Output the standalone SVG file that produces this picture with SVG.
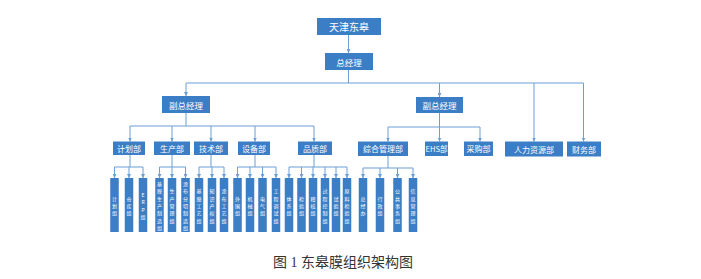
<svg xmlns="http://www.w3.org/2000/svg" width="701" height="279" viewBox="0 0 701 279">
<style>
.box{fill:#3b7ec6;}
.leaf{fill:#3b7ec6;}
.t{fill:#ffffff;font-family:"Noto Sans CJK SC","Noto Sans",sans-serif;text-anchor:middle;dominant-baseline:central;}
.vt{fill:#ffffff;font-family:"Noto Sans CJK SC","Noto Sans",sans-serif;font-size:5px;text-anchor:middle;dominant-baseline:central;}
.ln{fill:none;stroke:#6b9fd6;stroke-width:1;}
.ar{fill:none;stroke:#6b9fd6;stroke-width:1;marker-end:url(#ah);}
.cap{fill:#333333;font-family:"Liberation Serif","Noto Sans CJK SC",serif;font-size:14px;text-anchor:middle;dominant-baseline:central;}
</style>
<defs>
<marker id="ah" viewBox="0 0 6 6" refX="6" refY="3" markerWidth="4" markerHeight="4" orient="auto" markerUnits="userSpaceOnUse">
<path d="M0,0 L6,3 L0,6 Z" fill="#6b9fd6"/>
</marker>
</defs>
<rect x="0" y="0" width="701" height="279" fill="#ffffff"/>
<g id="connectors">
<path class="ar" d="M348.5,35 V53"/>
<path class="ln" d="M348.5,70 V83 M186,83 H583.5"/>
<path class="ar" d="M186,83 V96"/>
<path class="ar" d="M439.5,83 V97"/>
<path class="ar" d="M534,83 V141.5"/>
<path class="ar" d="M583.5,83 V141.5"/>
<path class="ln" d="M186,113 V126 M130,126 H314"/>
<path class="ar" d="M130,126 V141.5"/>
<path class="ar" d="M172,126 V141.5"/>
<path class="ar" d="M211,126 V141.5"/>
<path class="ar" d="M255,126 V141.5"/>
<path class="ar" d="M314,126 V141.5"/>
<path class="ln" d="M439.5,113 V127 M388,127 H480"/>
<path class="ar" d="M388,127 V141.5"/>
<path class="ar" d="M439.5,127 V141.5"/>
<path class="ar" d="M480,127 V141.5"/>
<path class="ln" d="M130,155 V167 M114.5,167 H143"/>
<path class="ar" d="M114.5,167 V178"/><path class="ar" d="M129,167 V178"/><path class="ar" d="M143,167 V178"/>
<path class="ln" d="M172,155 V167 M159.5,167 H185.5"/>
<path class="ar" d="M159.5,167 V178"/><path class="ar" d="M172,167 V178"/><path class="ar" d="M185.5,167 V178"/>
<path class="ln" d="M211,155 V167 M199,167 H224"/>
<path class="ar" d="M199,167 V178"/><path class="ar" d="M212,167 V178"/><path class="ar" d="M224,167 V178"/>
<path class="ln" d="M255,155 V167 M237.5,167 H276"/>
<path class="ar" d="M237.5,167 V178"/><path class="ar" d="M250,167 V178"/><path class="ar" d="M262.5,167 V178"/><path class="ar" d="M276,167 V178"/>
<path class="ln" d="M314,155 V167 M289,167 H347"/>
<path class="ar" d="M289,167 V178"/><path class="ar" d="M301.5,167 V178"/><path class="ar" d="M313,167 V178"/><path class="ar" d="M325,167 V178"/><path class="ar" d="M336,167 V178"/><path class="ar" d="M347,167 V178"/>
<path class="ln" d="M388,156 V168 M363,168 H413"/>
<path class="ar" d="M363,168 V178"/><path class="ar" d="M380,168 V178"/><path class="ar" d="M397.5,168 V178"/><path class="ar" d="M413,168 V178"/>
</g>
<g id="n-tianjin"><rect class="box" x="317" y="18" width="64" height="17"/><text class="t" x="349" y="26.5" font-size="10">天津东皋</text></g>
<g id="n-zjl"><rect class="box" x="325" y="53" width="48" height="17"/><text class="t" x="349" y="61.5" font-size="8.5">总经理</text></g>
<g id="n-fzjl1"><rect class="box" x="162" y="96" width="48" height="17"/><text class="t" x="186" y="104.5" font-size="8.5">副总经理</text></g>
<g id="n-fzjl2"><rect class="box" x="416" y="97" width="47" height="16"/><text class="t" x="439.5" y="105" font-size="8.5">副总经理</text></g>
<g id="n-jhb"><rect class="box" x="113" y="141.5" width="32" height="13.5"/><text class="t" x="129" y="148.3" font-size="8">计划部</text></g>
<g id="n-scb"><rect class="box" x="154" y="141.5" width="36" height="13.5"/><text class="t" x="172" y="148.3" font-size="8">生产部</text></g>
<g id="n-jsb"><rect class="box" x="194" y="141.5" width="34" height="13.5"/><text class="t" x="211" y="148.3" font-size="8">技术部</text></g>
<g id="n-sbb"><rect class="box" x="238" y="141.5" width="32" height="13.5"/><text class="t" x="254" y="148.3" font-size="8">设备部</text></g>
<g id="n-pzb"><rect class="box" x="298" y="141.5" width="34" height="13.5"/><text class="t" x="315" y="148.3" font-size="8">品质部</text></g>
<g id="n-zhglb"><rect class="box" x="358" y="141.5" width="50" height="14.5"/><text class="t" x="383" y="148.8" font-size="8">综合管理部</text></g>
<g id="n-ehsb"><rect class="box" x="425" y="141.5" width="23" height="14.5"/><text class="t" x="436.5" y="148.8" font-size="7.5">EHS部</text></g>
<g id="n-cgb"><rect class="box" x="464" y="141.5" width="29" height="14.5"/><text class="t" x="478.5" y="148.8" font-size="8">采购部</text></g>
<g id="n-rlzyb"><rect class="box" x="505" y="141.5" width="58" height="15"/><text class="t" x="534" y="149" font-size="8">人力资源部</text></g>
<g id="n-cwb"><rect class="box" x="567" y="141.5" width="34" height="15"/><text class="t" x="584" y="149" font-size="8">财务部</text></g>
<g id="leaves">
<g id="l1"><rect class="leaf" x="110.25" y="178" width="8.5" height="54"/><text class="vt"><tspan x="114.5" y="197.7">计</tspan><tspan x="114.5" y="205">划</tspan><tspan x="114.5" y="212.3">组</tspan></text></g>
<g id="l2"><rect class="leaf" x="124.75" y="178" width="8.5" height="54"/><text class="vt"><tspan x="129" y="197.7">仓</tspan><tspan x="129" y="205">库</tspan><tspan x="129" y="212.3">组</tspan></text></g>
<g id="l3"><rect class="leaf" x="138.75" y="178" width="8.5" height="54"/><text class="vt"><tspan x="143" y="194.05">E</tspan><tspan x="143" y="201.35">R</tspan><tspan x="143" y="208.65">P</tspan><tspan x="143" y="215.95">组</tspan></text></g>
<g id="l4"><rect class="leaf" x="155.25" y="178" width="8.5" height="54"/><text class="vt"><tspan x="159.5" y="183.1">基</tspan><tspan x="159.5" y="190.4">膜</tspan><tspan x="159.5" y="197.7">生</tspan><tspan x="159.5" y="205">产</tspan><tspan x="159.5" y="212.3">制</tspan><tspan x="159.5" y="219.6">造</tspan><tspan x="159.5" y="226.9">组</tspan></text></g>
<g id="l5"><rect class="leaf" x="167.75" y="178" width="8.5" height="54"/><text class="vt"><tspan x="172" y="190.4">生</tspan><tspan x="172" y="197.7">产</tspan><tspan x="172" y="205">管</tspan><tspan x="172" y="212.3">理</tspan><tspan x="172" y="219.6">组</tspan></text></g>
<g id="l6"><rect class="leaf" x="181.25" y="178" width="8.5" height="54"/><text class="vt"><tspan x="185.5" y="183.1">涂</tspan><tspan x="185.5" y="190.4">布</tspan><tspan x="185.5" y="197.7">分</tspan><tspan x="185.5" y="205">切</tspan><tspan x="185.5" y="212.3">制</tspan><tspan x="185.5" y="219.6">造</tspan><tspan x="185.5" y="226.9">组</tspan></text></g>
<g id="l7"><rect class="leaf" x="194.75" y="178" width="8.5" height="54"/><text class="vt"><tspan x="199" y="190.4">基</tspan><tspan x="199" y="197.7">膜</tspan><tspan x="199" y="205">工</tspan><tspan x="199" y="212.3">艺</tspan><tspan x="199" y="219.6">组</tspan></text></g>
<g id="l8"><rect class="leaf" x="207.75" y="178" width="8.5" height="54"/><text class="vt"><tspan x="212" y="190.4">知</tspan><tspan x="212" y="197.7">识</tspan><tspan x="212" y="205">产</tspan><tspan x="212" y="212.3">权</tspan><tspan x="212" y="219.6">组</tspan></text></g>
<g id="l9"><rect class="leaf" x="219.75" y="178" width="8.5" height="54"/><text class="vt"><tspan x="224" y="190.4">涂</tspan><tspan x="224" y="197.7">布</tspan><tspan x="224" y="205">工</tspan><tspan x="224" y="212.3">艺</tspan><tspan x="224" y="219.6">组</tspan></text></g>
<g id="l10"><rect class="leaf" x="233.25" y="178" width="8.5" height="54"/><text class="vt"><tspan x="237.5" y="197.7">外</tspan><tspan x="237.5" y="205">围</tspan><tspan x="237.5" y="212.3">组</tspan></text></g>
<g id="l11"><rect class="leaf" x="245.75" y="178" width="8.5" height="54"/><text class="vt"><tspan x="250" y="197.7">机</tspan><tspan x="250" y="205">械</tspan><tspan x="250" y="212.3">组</tspan></text></g>
<g id="l12"><rect class="leaf" x="258.25" y="178" width="8.5" height="54"/><text class="vt"><tspan x="262.5" y="197.7">电</tspan><tspan x="262.5" y="205">气</tspan><tspan x="262.5" y="212.3">组</tspan></text></g>
<g id="l13"><rect class="leaf" x="271.75" y="178" width="8.5" height="54"/><text class="vt"><tspan x="276" y="190.4">工</tspan><tspan x="276" y="197.7">程</tspan><tspan x="276" y="205">调</tspan><tspan x="276" y="212.3">试</tspan><tspan x="276" y="219.6">组</tspan></text></g>
<g id="l14"><rect class="leaf" x="284.75" y="178" width="8.5" height="54"/><text class="vt"><tspan x="289" y="197.7">体</tspan><tspan x="289" y="205">系</tspan><tspan x="289" y="212.3">组</tspan></text></g>
<g id="l15"><rect class="leaf" x="297.25" y="178" width="8.5" height="54"/><text class="vt"><tspan x="301.5" y="197.7">检</tspan><tspan x="301.5" y="205">验</tspan><tspan x="301.5" y="212.3">组</tspan></text></g>
<g id="l16"><rect class="leaf" x="308.75" y="178" width="8.5" height="54"/><text class="vt"><tspan x="313" y="197.7">稽</tspan><tspan x="313" y="205">核</tspan><tspan x="313" y="212.3">组</tspan></text></g>
<g id="l17"><rect class="leaf" x="320.75" y="178" width="8.5" height="54"/><text class="vt"><tspan x="325" y="190.4">过</tspan><tspan x="325" y="197.7">程</tspan><tspan x="325" y="205">控</tspan><tspan x="325" y="212.3">制</tspan><tspan x="325" y="219.6">组</tspan></text></g>
<g id="l18"><rect class="leaf" x="331.75" y="178" width="8.5" height="54"/><text class="vt"><tspan x="336" y="197.7">试</tspan><tspan x="336" y="205">验</tspan><tspan x="336" y="212.3">组</tspan></text></g>
<g id="l19"><rect class="leaf" x="342.75" y="178" width="8.5" height="54"/><text class="vt"><tspan x="347" y="190.4">原</tspan><tspan x="347" y="197.7">料</tspan><tspan x="347" y="205">检</tspan><tspan x="347" y="212.3">验</tspan><tspan x="347" y="219.6">组</tspan></text></g>
<g id="l20"><rect class="leaf" x="358.75" y="178" width="8.5" height="54"/><text class="vt"><tspan x="363" y="197.7">总</tspan><tspan x="363" y="205">经</tspan><tspan x="363" y="212.3">办</tspan></text></g>
<g id="l21"><rect class="leaf" x="375.75" y="178" width="8.5" height="54"/><text class="vt"><tspan x="380" y="197.7">行</tspan><tspan x="380" y="205">政</tspan><tspan x="380" y="212.3">组</tspan></text></g>
<g id="l22"><rect class="leaf" x="393.25" y="178" width="8.5" height="54"/><text class="vt"><tspan x="397.5" y="190.4">公</tspan><tspan x="397.5" y="197.7">共</tspan><tspan x="397.5" y="205">事</tspan><tspan x="397.5" y="212.3">务</tspan><tspan x="397.5" y="219.6">组</tspan></text></g>
<g id="l23"><rect class="leaf" x="408.75" y="178" width="8.5" height="54"/><text class="vt"><tspan x="413" y="190.4">信</tspan><tspan x="413" y="197.7">息</tspan><tspan x="413" y="205">管</tspan><tspan x="413" y="212.3">理</tspan><tspan x="413" y="219.6">组</tspan></text></g>
</g>
<text class="cap" x="343" y="262">图 1 东皋膜组织架构图</text>
</svg>
